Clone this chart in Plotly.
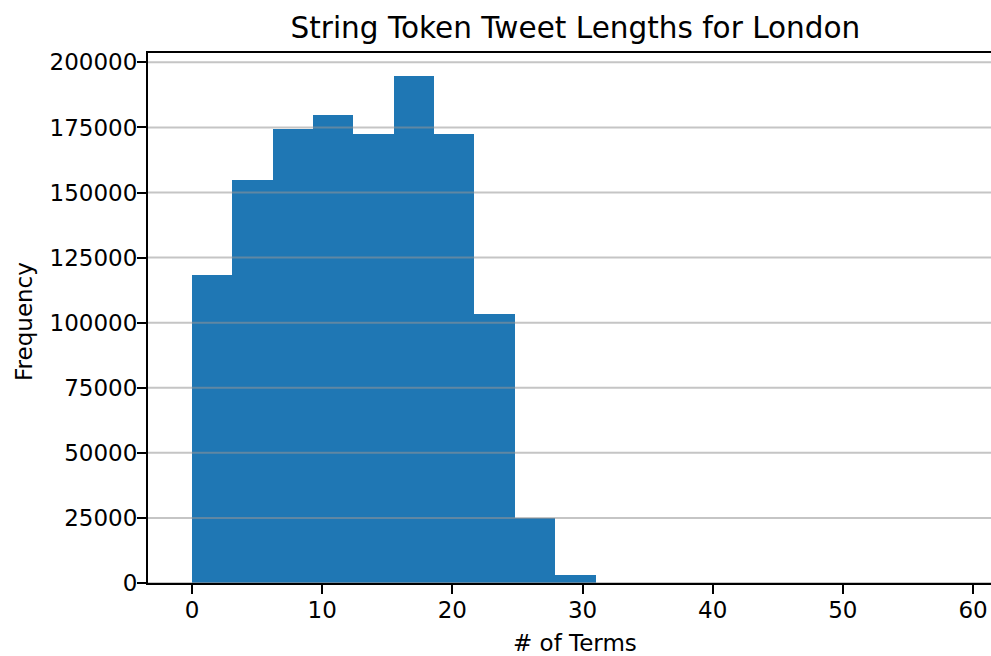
import plotly.graph_objects as go

# Histogram data (20 bins from 0 to 62, width 3.1); bins past 31 are too small to see
bin_edges = [0.0, 3.1, 6.2, 9.3, 12.4, 15.5, 18.6, 21.7, 24.8, 27.9, 31.0,
             34.1, 37.2, 40.3, 43.4, 46.5, 49.6, 52.7, 55.8, 58.9, 62.0]
counts = [118500, 154700, 174400, 179800, 172500, 194900, 172300, 103400, 24900, 3100,
          0, 0, 0, 0, 0, 0, 0, 0, 0, 0]
y_ticks = [0, 25000, 50000, 75000, 100000, 125000, 150000, 175000, 200000]
x_ticks = [0, 10, 20, 30, 40, 50, 60]

centers = [(bin_edges[i] + bin_edges[i + 1]) / 2 for i in range(len(counts))]
widths = [bin_edges[i + 1] - bin_edges[i] for i in range(len(counts))]

FONT = "DejaVu Sans"

fig = go.Figure()
fig.add_trace(go.Bar(
    x=centers, y=counts, width=widths,
    marker=dict(color="#1f77b4", line=dict(width=0)),
    hoverinfo="x+y",
))

# grid lines drawn above bars (as in the reference)
for v in y_ticks:
    fig.add_shape(type="line", xref="paper", yref="y", x0=0, x1=1, y0=v, y1=v,
                  line=dict(color="rgba(150,150,150,0.55)", width=2), layer="above")

fig.update_layout(
    width=991, height=656,
    margin=dict(l=148, r=0, t=53, b=73),
    paper_bgcolor="white", plot_bgcolor="white",
    bargap=0,
    showlegend=False,
    font=dict(family=FONT, size=23, color="black"),
    title=dict(text="String Token Tweet Lengths for London",
               font=dict(family=FONT, size=29.5, color="black"),
               x=0.507, xref="paper", xanchor="center",
               y=1 - 28 / 656, yref="container", yanchor="middle"),
    annotations=[
        dict(text="# of Terms", xref="paper", yref="paper", x=0.5065, y=-0.1132,
             xanchor="center", yanchor="middle", showarrow=False,
             font=dict(family=FONT, size=23, color="black")),
        dict(text="Frequency", xref="paper", yref="paper", x=-0.148, y=0.493,
             xanchor="center", yanchor="middle", showarrow=False, textangle=-90,
             font=dict(family=FONT, size=23, color="black")),
    ],
)

fig.update_xaxes(
    range=[-3.38, 61.38],
    tickvals=x_ticks,
    ticks="outside", ticklen=9, tickwidth=2, tickcolor="black",
    ticklabelstandoff=-4,
    showline=True, linewidth=2, linecolor="black", mirror=True,
    showgrid=False, zeroline=False,
    tickfont=dict(family=FONT, size=23, color="black"),
)
fig.update_yaxes(
    range=[0, 203600],
    tickvals=y_ticks,
    tickformat="d",
    ticks="outside", ticklen=9, tickwidth=2, tickcolor="black",
    ticklabelstandoff=-5,
    showline=True, linewidth=2, linecolor="black",
    showgrid=False, zeroline=False,
    tickfont=dict(family=FONT, size=23, color="black"),
)

fig.write_html(
    "out.html",
    config={"displayModeBar": False},
    post_script="document.body.style.margin='0';document.body.style.overflow='hidden';",
)
